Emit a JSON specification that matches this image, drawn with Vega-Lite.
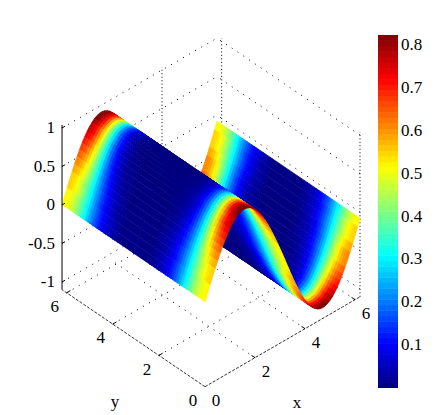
{
"$schema":"https://vega.github.io/schema/vega-lite/v6.json",
"width":444,"height":415,"padding":0,
"autosize":{"type":"fit","contains":"padding"},
"background":"white",
"config":{"view":{"stroke":null}},
"datasets":{
"prof":[
{"p":0,"c":[0.519,0.513,0.501,0.483,0.461,0.434,0.404,0.371,0.337,0.303,0.268,0.235,0.204,0.174,0.147,0.123,0.102,0.083,0.067,0.053,0.042,0.032,0.025,0.019,0.006]},
{"p":1,"c":[0.550,0.543,0.529,0.508,0.482,0.451,0.417,0.380,0.342,0.304,0.266,0.230,0.197,0.165,0.138,0.113,0.091,0.073,0.058,0.045,0.034,0.026,0.019,0.014,0.004]},
{"p":2,"c":[0.581,0.573,0.556,0.533,0.503,0.468,0.430,0.388,0.346,0.304,0.263,0.225,0.189,0.157,0.128,0.103,0.082,0.064,0.049,0.038,0.029,0.021,0.015,0.011,0.002]},
{"p":3,"c":[0.612,0.603,0.584,0.557,0.524,0.484,0.441,0.395,0.349,0.303,0.259,0.219,0.181,0.148,0.119,0.094,0.074,0.056,0.042,0.032,0.023,0.017,0.012,0.008,0.002]},
{"p":4,"c":[0.643,0.632,0.611,0.581,0.544,0.500,0.451,0.401,0.351,0.302,0.255,0.212,0.173,0.139,0.110,0.086,0.066,0.049,0.036,0.026,0.019,0.014,0.009,0.006,0.001]},
{"p":5,"c":[0.674,0.662,0.638,0.605,0.562,0.514,0.462,0.407,0.352,0.300,0.250,0.205,0.165,0.131,0.102,0.078,0.058,0.043,0.031,0.022,0.016,0.011,0.007,0.005,0.001]},
{"p":6,"c":[0.705,0.691,0.665,0.628,0.581,0.528,0.471,0.412,0.353,0.297,0.245,0.198,0.157,0.123,0.094,0.071,0.052,0.037,0.026,0.018,0.013,0.008,0.006,0.004,0.001]},
{"p":7,"c":[0.735,0.720,0.691,0.650,0.600,0.542,0.479,0.416,0.353,0.293,0.240,0.192,0.150,0.115,0.086,0.063,0.046,0.032,0.022,0.015,0.010,0.007,0.004,0.003,0.000]},
{"p":8,"c":[0.766,0.750,0.718,0.673,0.617,0.554,0.487,0.419,0.352,0.290,0.233,0.184,0.142,0.108,0.079,0.058,0.041,0.028,0.019,0.012,0.008,0.005,0.003,0.002,0.000]},
{"p":9,"c":[0.797,0.779,0.744,0.695,0.634,0.566,0.494,0.421,0.351,0.285,0.228,0.177,0.134,0.100,0.073,0.052,0.036,0.024,0.016,0.010,0.006,0.004,0.002,0.002,0.000]},
{"p":10,"c":[0.828,0.808,0.770,0.716,0.651,0.578,0.500,0.422,0.349,0.281,0.221,0.169,0.127,0.093,0.066,0.046,0.032,0.021,0.013,0.008,0.005,0.003,0.002,0.001,0.000]}
],
"strips":[
{"x0":6.1,"x1":6.2,"z0":-0.175,"z1":-0.08,"p":0},
{"x0":6.0,"x1":6.1,"z0":-0.268,"z1":-0.175,"p":1},
{"x0":5.9,"x1":6.0,"z0":-0.359,"z1":-0.268,"p":1},
{"x0":5.8,"x1":5.9,"z0":-0.446,"z1":-0.359,"p":2},
{"x0":5.7,"x1":5.8,"z0":-0.529,"z1":-0.446,"p":3},
{"x0":5.6,"x1":5.7,"z0":-0.606,"z1":-0.529,"p":3},
{"x0":5.5,"x1":5.6,"z0":-0.677,"z1":-0.606,"p":4},
{"x0":5.4,"x1":5.5,"z0":-0.742,"z1":-0.677,"p":5},
{"x0":5.3,"x1":5.4,"z0":-0.799,"z1":-0.742,"p":6},
{"x0":5.2,"x1":5.3,"z0":-0.848,"z1":-0.799,"p":7},
{"x0":5.1,"x1":5.2,"z0":-0.889,"z1":-0.848,"p":8},
{"x0":5.0,"x1":5.1,"z0":-0.921,"z1":-0.889,"p":9},
{"x0":4.9,"x1":5.0,"z0":-0.943,"z1":-0.921,"p":9},
{"x0":4.8,"x1":4.9,"z0":-0.956,"z1":-0.943,"p":10},
{"x0":4.7,"x1":4.8,"z0":-0.96,"z1":-0.956,"p":10},
{"x0":4.6,"x1":4.7,"z0":-0.954,"z1":-0.96,"p":10},
{"x0":4.5,"x1":4.6,"z0":-0.938,"z1":-0.954,"p":10},
{"x0":4.4,"x1":4.5,"z0":-0.914,"z1":-0.938,"p":9},
{"x0":4.3,"x1":4.4,"z0":-0.88,"z1":-0.914,"p":9},
{"x0":4.2,"x1":4.3,"z0":-0.837,"z1":-0.88,"p":8},
{"x0":4.1,"x1":4.2,"z0":-0.786,"z1":-0.837,"p":7},
{"x0":4.0,"x1":4.1,"z0":-0.727,"z1":-0.786,"p":6},
{"x0":3.9,"x1":4.0,"z0":-0.66,"z1":-0.727,"p":5},
{"x0":3.8,"x1":3.9,"z0":-0.587,"z1":-0.66,"p":4},
{"x0":3.7,"x1":3.8,"z0":-0.509,"z1":-0.587,"p":3},
{"x0":3.6,"x1":3.7,"z0":-0.425,"z1":-0.509,"p":2},
{"x0":3.5,"x1":3.6,"z0":-0.337,"z1":-0.425,"p":2},
{"x0":3.4,"x1":3.5,"z0":-0.245,"z1":-0.337,"p":1},
{"x0":3.3,"x1":3.4,"z0":-0.151,"z1":-0.245,"p":0},
{"x0":3.2,"x1":3.3,"z0":-0.056,"z1":-0.151,"p":0},
{"x0":3.1,"x1":3.2,"z0":0.038,"z1":-0.056,"p":0},
{"x0":3.0,"x1":3.1,"z0":0.128,"z1":0.038,"p":0},
{"x0":2.9,"x1":3.0,"z0":0.218,"z1":0.128,"p":0},
{"x0":2.8,"x1":2.9,"z0":0.305,"z1":0.218,"p":1},
{"x0":2.7,"x1":2.8,"z0":0.389,"z1":0.305,"p":1},
{"x0":2.6,"x1":2.7,"z0":0.469,"z1":0.389,"p":2},
{"x0":2.5,"x1":2.6,"z0":0.545,"z1":0.469,"p":3},
{"x0":2.4,"x1":2.5,"z0":0.615,"z1":0.545,"p":4},
{"x0":2.3,"x1":2.4,"z0":0.679,"z1":0.615,"p":5},
{"x0":2.2,"x1":2.3,"z0":0.736,"z1":0.679,"p":6},
{"x0":2.1,"x1":2.2,"z0":0.786,"z1":0.736,"p":7},
{"x0":2.0,"x1":2.1,"z0":0.827,"z1":0.786,"p":8},
{"x0":1.9,"x1":2.0,"z0":0.861,"z1":0.827,"p":9},
{"x0":1.8,"x1":1.9,"z0":0.886,"z1":0.861,"p":9},
{"x0":1.7,"x1":1.8,"z0":0.902,"z1":0.886,"p":10},
{"x0":1.6,"x1":1.7,"z0":0.91,"z1":0.902,"p":10},
{"x0":1.5,"x1":1.6,"z0":0.908,"z1":0.91,"p":10},
{"x0":1.4,"x1":1.5,"z0":0.897,"z1":0.908,"p":10},
{"x0":1.3,"x1":1.4,"z0":0.877,"z1":0.897,"p":10},
{"x0":1.2,"x1":1.3,"z0":0.848,"z1":0.877,"p":9},
{"x0":1.1,"x1":1.2,"z0":0.811,"z1":0.848,"p":8},
{"x0":1.0,"x1":1.1,"z0":0.766,"z1":0.811,"p":8},
{"x0":0.9,"x1":1.0,"z0":0.713,"z1":0.766,"p":7},
{"x0":0.8,"x1":0.9,"z0":0.653,"z1":0.713,"p":6},
{"x0":0.7,"x1":0.8,"z0":0.586,"z1":0.653,"p":5},
{"x0":0.6,"x1":0.7,"z0":0.514,"z1":0.586,"p":4},
{"x0":0.5,"x1":0.6,"z0":0.436,"z1":0.514,"p":3},
{"x0":0.4,"x1":0.5,"z0":0.354,"z1":0.436,"p":2},
{"x0":0.3,"x1":0.4,"z0":0.269,"z1":0.354,"p":1},
{"x0":0.2,"x1":0.3,"z0":0.181,"z1":0.269,"p":1},
{"x0":0.1,"x1":0.2,"z0":0.091,"z1":0.181,"p":0},
{"x0":0,"x1":0.1,"z0":0,"z1":0.091,"p":0}
],
"bar":[{"c":0.0064},{"c":0.0193},{"c":0.0321},{"c":0.045},{"c":0.0578},{"c":0.0707},{"c":0.0835},{"c":0.0964},{"c":0.1092},{"c":0.1221},{"c":0.1349},{"c":0.1478},{"c":0.1606},{"c":0.1735},{"c":0.1864},{"c":0.1992},{"c":0.2121},{"c":0.2249},{"c":0.2378},{"c":0.2506},{"c":0.2635},{"c":0.2763},{"c":0.2892},{"c":0.302},{"c":0.3149},{"c":0.3277},{"c":0.3406},{"c":0.3534},{"c":0.3663},{"c":0.3792},{"c":0.392},{"c":0.4049},{"c":0.4177},{"c":0.4306},{"c":0.4434},{"c":0.4563},{"c":0.4691},{"c":0.482},{"c":0.4948},{"c":0.5077},{"c":0.5205},{"c":0.5334},{"c":0.5462},{"c":0.5591},{"c":0.572},{"c":0.5848},{"c":0.5977},{"c":0.6105},{"c":0.6234},{"c":0.6362},{"c":0.6491},{"c":0.6619},{"c":0.6748},{"c":0.6876},{"c":0.7005},{"c":0.7133},{"c":0.7262},{"c":0.739},{"c":0.7519},{"c":0.7648},{"c":0.7776},{"c":0.7905},{"c":0.8033},{"c":0.8162}],
"lines":[
{"k":"grid","a":0,"b":6.2,"z":-1,"a2":6.2,"b2":6.2,"z2":-1},
{"k":"grid","a":0,"b":6.2,"z":-0.5,"a2":6.2,"b2":6.2,"z2":-0.5},
{"k":"grid","a":0,"b":6.2,"z":0,"a2":6.2,"b2":6.2,"z2":0},
{"k":"grid","a":0,"b":6.2,"z":0.5,"a2":6.2,"b2":6.2,"z2":0.5},
{"k":"grid","a":0,"b":6.2,"z":1,"a2":6.2,"b2":6.2,"z2":1},
{"k":"grid","a":6.2,"b":0,"z":-1,"a2":6.2,"b2":6.2,"z2":-1},
{"k":"grid","a":6.2,"b":0,"z":-0.5,"a2":6.2,"b2":6.2,"z2":-0.5},
{"k":"grid","a":6.2,"b":0,"z":0,"a2":6.2,"b2":6.2,"z2":0},
{"k":"grid","a":6.2,"b":0,"z":0.5,"a2":6.2,"b2":6.2,"z2":0.5},
{"k":"grid","a":6.2,"b":0,"z":1,"a2":6.2,"b2":6.2,"z2":1},
{"k":"grid","a":2,"b":0,"z":-1.1,"a2":2,"b2":6.2,"z2":-1.1},
{"k":"grid","a":4,"b":0,"z":-1.1,"a2":4,"b2":6.2,"z2":-1.1},
{"k":"grid","a":6,"b":0,"z":-1.1,"a2":6,"b2":6.2,"z2":-1.1},
{"k":"grid","a":0,"b":2,"z":-1.1,"a2":6.2,"b2":2,"z2":-1.1},
{"k":"grid","a":0,"b":4,"z":-1.1,"a2":6.2,"b2":4,"z2":-1.1},
{"k":"grid","a":0,"b":6,"z":-1.1,"a2":6.2,"b2":6,"z2":-1.1},
{"k":"vert","a":4,"b":6.2,"z":-1.1,"a2":4,"b2":6.2,"z2":1.04},
{"k":"vert","a":6.2,"b":6,"z":-1.1,"a2":6.2,"b2":6,"z2":1.04},
{"k":"vert","a":6.2,"b":0,"z":-1.1,"a2":6.2,"b2":0,"z2":1.04},
{"k":"floor","a":0,"b":0,"z":-1.1,"a2":6.2,"b2":0,"z2":-1.1},
{"k":"floor","a":0,"b":0,"z":-1.1,"a2":0,"b2":6.2,"z2":-1.1},
{"k":"axis","a":0,"b":6.2,"z":-1.1,"a2":0,"b2":6.2,"z2":1.04},
{"k":"tick","a":0,"b":6.2,"z":-1,"a2":0.12,"b2":6.2,"z2":-1},
{"k":"tick","a":0,"b":6.2,"z":-0.5,"a2":0.12,"b2":6.2,"z2":-0.5},
{"k":"tick","a":0,"b":6.2,"z":0,"a2":0.12,"b2":6.2,"z2":0},
{"k":"tick","a":0,"b":6.2,"z":0.5,"a2":0.12,"b2":6.2,"z2":0.5},
{"k":"tick","a":0,"b":6.2,"z":1,"a2":0.12,"b2":6.2,"z2":1},
{"k":"tick","a":2,"b":0,"z":-1.1,"a2":2,"b2":0.15,"z2":-1.1},
{"k":"tick","a":4,"b":0,"z":-1.1,"a2":4,"b2":0.15,"z2":-1.1},
{"k":"tick","a":6,"b":0,"z":-1.1,"a2":6,"b2":0.15,"z2":-1.1},
{"k":"tick","a":0,"b":2,"z":-1.1,"a2":0.15,"b2":2,"z2":-1.1},
{"k":"tick","a":0,"b":4,"z":-1.1,"a2":0.15,"b2":4,"z2":-1.1},
{"k":"tick","a":0,"b":6,"z":-1.1,"a2":0.15,"b2":6,"z2":-1.1}
]
},
"layer":[
{"data":{"name":"lines"},
 "transform":[{"filter":"datum.k=='grid'"},
  {"calculate":"205+25*datum.a-23.06*datum.b","as":"sx"},{"calculate":"302-14.5*datum.a-15.65*datum.b-77*datum.z","as":"sy"},
  {"calculate":"205+25*datum.a2-23.06*datum.b2","as":"sx2"},{"calculate":"302-14.5*datum.a2-15.65*datum.b2-77*datum.z2","as":"sy2"}],
 "mark":{"type":"rule","color":"black","strokeWidth":1,"strokeDash":[1,6]},
 "encoding":{"x":{"field":"sx","type":"quantitative","scale":{"domain":[0,444],"nice":false},"axis":null},
  "y":{"field":"sy","type":"quantitative","scale":{"domain":[0,415],"reverse":true,"nice":false,"zero":false},"axis":null},
  "x2":{"field":"sx2"},"y2":{"field":"sy2"}}},
{"data":{"name":"lines"},
 "transform":[{"filter":"datum.k=='vert'"},
  {"calculate":"205+25*datum.a-23.06*datum.b","as":"sx"},{"calculate":"302-14.5*datum.a-15.65*datum.b-77*datum.z","as":"sy"},
  {"calculate":"205+25*datum.a2-23.06*datum.b2","as":"sx2"},{"calculate":"302-14.5*datum.a2-15.65*datum.b2-77*datum.z2","as":"sy2"}],
 "mark":{"type":"rule","color":"black","strokeWidth":1,"strokeDash":[1,2.5]},
 "encoding":{"x":{"field":"sx","type":"quantitative","scale":{"domain":[0,444],"nice":false},"axis":null},
  "y":{"field":"sy","type":"quantitative","scale":{"domain":[0,415],"reverse":true,"nice":false,"zero":false},"axis":null},
  "x2":{"field":"sx2"},"y2":{"field":"sy2"}}},
{"data":{"name":"strips"},
 "transform":[
  {"lookup":"p","from":{"data":{"name":"prof"},"key":"p","fields":["c"]}},
  {"calculate":"[0,0.1,0.2,0.3,0.4,0.5,0.6,0.7,0.8,0.9,1,1.1,1.2,1.3,1.4,1.5,1.6,1.7,1.8,1.9,2,2.1,2.2,2.3,2.4]","as":"y0"},
  {"calculate":"[0.1,0.2,0.3,0.4,0.5,0.6,0.7,0.8,0.9,1,1.1,1.2,1.3,1.4,1.5,1.6,1.7,1.8,1.9,2,2.1,2.2,2.3,2.4,3.1]","as":"y1"},
  {"flatten":["c","y0","y1"]},
  {"calculate":"[0,1]","as":"side"},
  {"flatten":["side"]},
  {"calculate":"[0,1,2,3]","as":"n"},
  {"flatten":["n"]},
  {"calculate":"datum.n==0||datum.n==3?datum.x0:datum.x1","as":"u"},
  {"calculate":"datum.n==0||datum.n==3?datum.z0:datum.z1","as":"w"},
  {"calculate":"datum.n<2?datum.y0:datum.y1","as":"v0"},
  {"calculate":"datum.side==1?6.2-datum.v0:datum.v0","as":"v"},
  {"calculate":"205+25*datum.u-23.06*datum.v","as":"sx"},
  {"calculate":"302-14.5*datum.u-15.65*datum.v-77*datum.w","as":"sy"},
  {"calculate":"datum.x0+'_'+datum.y0+'_'+datum.side","as":"pid"}],
 "mark":{"type":"line","filled":true,"strokeWidth":0.8,"interpolate":"linear"},
 "encoding":{
  "x":{"field":"sx","type":"quantitative","scale":{"domain":[0,444],"nice":false},"axis":null},
  "y":{"field":"sy","type":"quantitative","scale":{"domain":[0,415],"reverse":true,"nice":false,"zero":false},"axis":null},
  "detail":{"field":"pid","type":"nominal"},
  "order":{"field":"n","type":"quantitative"},
  "color":{"field":"c","type":"quantitative",
   "scale":{"domain":[0,0.1028,0.3084,0.514,0.7197,0.8225],"range":["#00007f","#0000ff","#00ffff","#ffff00","#ff0000","#7f0000"],"interpolate":"rgb","clamp":true},
   "legend":null},
  "stroke":{"field":"c","type":"quantitative",
   "scale":{"domain":[0,0.1028,0.3084,0.514,0.7197,0.8225],"range":["#00007f","#0000ff","#00ffff","#ffff00","#ff0000","#7f0000"],"interpolate":"rgb","clamp":true},"legend":null}}},
{"data":{"name":"bar"},
 "transform":[{"calculate":"378","as":"sx"},{"calculate":"398","as":"sx2"},
  {"calculate":"388-428.6*(datum.c-0.0064)","as":"sy"},{"calculate":"388-428.6*(datum.c+0.0075)","as":"sy2"}],
 "mark":{"type":"rect"},
 "encoding":{
  "x":{"field":"sx","type":"quantitative","scale":{"domain":[0,444],"nice":false},"axis":null},
  "y":{"field":"sy","type":"quantitative","scale":{"domain":[0,415],"reverse":true,"nice":false,"zero":false},"axis":null},
  "x2":{"field":"sx2"},"y2":{"field":"sy2"},
  "color":{"field":"c","type":"quantitative",
   "scale":{"domain":[0,0.1028,0.3084,0.514,0.7197,0.8225],"range":["#00007f","#0000ff","#00ffff","#ffff00","#ff0000","#7f0000"],"interpolate":"rgb","clamp":true},
   "legend":null}}},
{"data":{"values":[{"t":"0.1","c":0.1},{"t":"0.2","c":0.2},{"t":"0.3","c":0.3},{"t":"0.4","c":0.4},{"t":"0.5","c":0.5},{"t":"0.6","c":0.6},{"t":"0.7","c":0.7},{"t":"0.8","c":0.8}]},
 "transform":[{"calculate":"398","as":"sx"},{"calculate":"388-428.6*datum.c","as":"sy"}],
 "mark":{"type":"text","font":"Liberation Serif","fontSize":17,"color":"black","dx":3,"align":"left","baseline":"middle"},
 "encoding":{"x":{"field":"sx","type":"quantitative","scale":{"domain":[0,444],"nice":false},"axis":null},
  "y":{"field":"sy","type":"quantitative","scale":{"domain":[0,415],"reverse":true,"nice":false,"zero":false},"axis":null},
  "text":{"field":"t"}}},
{"data":{"name":"lines"},
 "transform":[{"filter":"datum.k=='floor'"},
  {"calculate":"205+25*datum.a-23.06*datum.b","as":"sx"},{"calculate":"302-14.5*datum.a-15.65*datum.b-77*datum.z","as":"sy"},
  {"calculate":"205+25*datum.a2-23.06*datum.b2","as":"sx2"},{"calculate":"302-14.5*datum.a2-15.65*datum.b2-77*datum.z2","as":"sy2"}],
 "mark":{"type":"rule","color":"black","strokeWidth":0.8,"strokeDash":[3,1.5]},
 "encoding":{"x":{"field":"sx","type":"quantitative","scale":{"domain":[0,444],"nice":false},"axis":null},
  "y":{"field":"sy","type":"quantitative","scale":{"domain":[0,415],"reverse":true,"nice":false,"zero":false},"axis":null},
  "x2":{"field":"sx2"},"y2":{"field":"sy2"}}},
{"data":{"name":"lines"},
 "transform":[{"filter":"datum.k=='axis'||datum.k=='tick'"},
  {"calculate":"205+25*datum.a-23.06*datum.b","as":"sx"},{"calculate":"302-14.5*datum.a-15.65*datum.b-77*datum.z","as":"sy"},
  {"calculate":"205+25*datum.a2-23.06*datum.b2","as":"sx2"},{"calculate":"302-14.5*datum.a2-15.65*datum.b2-77*datum.z2","as":"sy2"}],
 "mark":{"type":"rule","color":"black","strokeWidth":1},
 "encoding":{"x":{"field":"sx","type":"quantitative","scale":{"domain":[0,444],"nice":false},"axis":null},
  "y":{"field":"sy","type":"quantitative","scale":{"domain":[0,415],"reverse":true,"nice":false,"zero":false},"axis":null},
  "x2":{"field":"sx2"},"y2":{"field":"sy2"}}},
{"data":{"values":[{"t":"0","a":0},{"t":"2","a":2},{"t":"4","a":4},{"t":"6","a":6}]},
 "transform":[{"calculate":"205+25*datum.a","as":"sx"},{"calculate":"387-14.5*datum.a","as":"sy"}],
 "mark":{"type":"text","font":"Liberation Serif","fontSize":17,"color":"black","dx":11,"dy":14,"align":"center","baseline":"middle"},
 "encoding":{"x":{"field":"sx","type":"quantitative","scale":{"domain":[0,444],"nice":false},"axis":null},
  "y":{"field":"sy","type":"quantitative","scale":{"domain":[0,415],"reverse":true,"nice":false,"zero":false},"axis":null},
  "text":{"field":"t"}}},
{"data":{"values":[{"t":"0","b":0},{"t":"2","b":2},{"t":"4","b":4},{"t":"6","b":6}]},
 "transform":[{"calculate":"205-23.06*datum.b","as":"sx"},{"calculate":"387-15.65*datum.b","as":"sy"}],
 "mark":{"type":"text","font":"Liberation Serif","fontSize":17,"color":"black","dx":-12,"dy":14,"align":"center","baseline":"middle"},
 "encoding":{"x":{"field":"sx","type":"quantitative","scale":{"domain":[0,444],"nice":false},"axis":null},
  "y":{"field":"sy","type":"quantitative","scale":{"domain":[0,415],"reverse":true,"nice":false,"zero":false},"axis":null},
  "text":{"field":"t"}}},
{"data":{"values":[{"t":"1","z":1},{"t":"0.5","z":0.5},{"t":"0","z":0},{"t":"-0.5","z":-0.5},{"t":"-1","z":-1}]},
 "transform":[{"calculate":"62","as":"sx"},{"calculate":"205-77*datum.z","as":"sy"}],
 "mark":{"type":"text","font":"Liberation Serif","fontSize":17,"color":"black","dx":-7,"align":"right","baseline":"middle"},
 "encoding":{"x":{"field":"sx","type":"quantitative","scale":{"domain":[0,444],"nice":false},"axis":null},
  "y":{"field":"sy","type":"quantitative","scale":{"domain":[0,415],"reverse":true,"nice":false,"zero":false},"axis":null},
  "text":{"field":"t"}}},
{"data":{"values":[{"t":"x","a":1.476,"b":-2.39},{"t":"y","a":-2.415,"b":1.28}]},
 "transform":[{"calculate":"205+25*datum.a-23.06*datum.b","as":"sx"},{"calculate":"387-14.5*datum.a-15.65*datum.b","as":"sy"}],
 "mark":{"type":"text","font":"Liberation Serif","fontSize":17,"color":"black","align":"center","baseline":"middle"},
 "encoding":{"x":{"field":"sx","type":"quantitative","scale":{"domain":[0,444],"nice":false},"axis":null},
  "y":{"field":"sy","type":"quantitative","scale":{"domain":[0,415],"reverse":true,"nice":false,"zero":false},"axis":null},
  "text":{"field":"t"}}}
]
}
